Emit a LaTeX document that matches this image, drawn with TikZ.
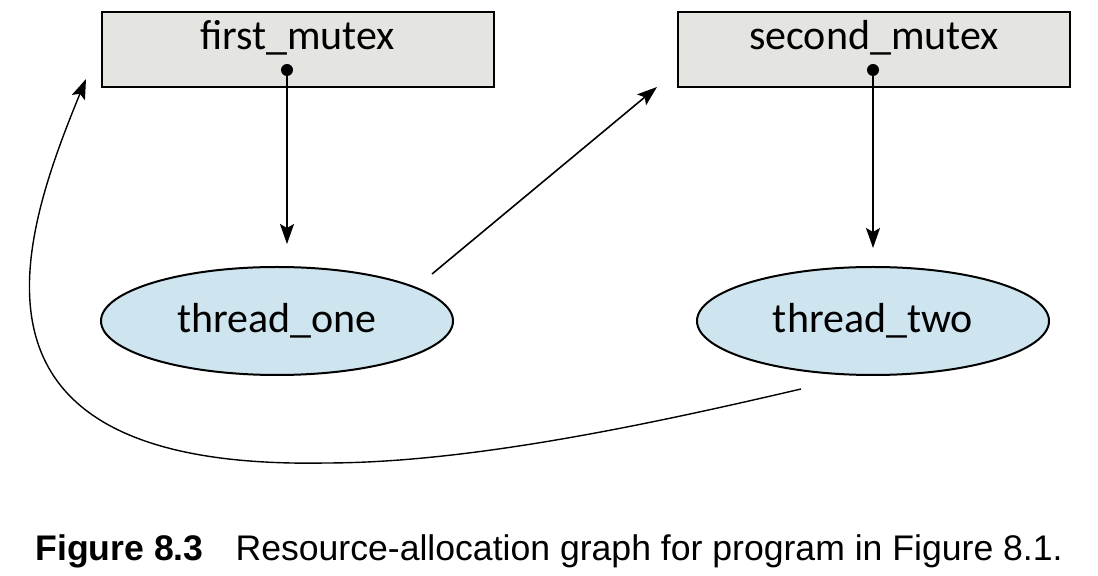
\documentclass[tikz,border=0pt]{standalone}
\usepackage{fontspec}
\setmainfont{Carlito}
\newfontfamily\capfont{Liberation Sans}
\usetikzlibrary{positioning,arrows.meta,shapes.geometric}
\definecolor{mutexgray}{RGB}{228,229,224}
\definecolor{threadblue}{RGB}{206,228,238}

\begin{document}
\begin{tikzpicture}[x=0.5pt,y=-0.5pt,
  mutex/.style={draw,fill=mutexgray,line width=1pt,minimum width=196pt,minimum height=37.5pt,inner sep=0pt,outer sep=0pt},
  thread/.style={draw,ellipse,fill=threadblue,line width=1pt,minimum width=176pt,minimum height=54pt,inner sep=0pt},
  arr/.style={-{Stealth[length=10pt,width=7pt,inset=2pt]},line width=0.8pt}]
\useasboundingbox (0,0) rectangle (1098,576);
\node[mutex,label={[anchor=base,yshift=-19pt,font=\fontsize{21}{25}\selectfont]north:first\_mutex}] (m1) at (297.5,49.5) {};
\node[mutex,label={[anchor=base,yshift=-19pt,font=\fontsize{21}{25}\selectfont]north:second\_mutex}] (m2) at (874,49.5) {};
\node[thread,font=\fontsize{21}{25}\selectfont] (t1) at (277,321) {thread\_one};
\node[thread,font=\fontsize{21}{25}\selectfont] (t2) at (873,321) {thread\_two};
\coordinate (d1) at (287,70);
\coordinate (d2) at (873,70);
\fill (d1) circle (3pt) (d2) circle (3pt);
% request and assignment edges
\draw[arr] (d1) -- ([yshift=11pt]t1.north -| d1);
\draw[arr] (d2) -- ([yshift=9pt]t2.north);
\draw[arr] ([xshift=77.5pt,yshift=23.5pt]t1.center) -- ([xshift=-10.5pt]m2.south west);
\draw[arr,line width=0.7pt] ([xshift=-36pt,yshift=-34pt]t2.center) .. controls (651,424) and (470,463) .. (325,463)
  .. controls (-60,470) and (20,240) .. ([xshift=-7.75pt,yshift=4pt]m1.south west);
\node[font=\capfont\fontsize{17.8}{21}\selectfont,anchor=base west,inner sep=0pt] (cap) at (35,561)
  {\textbf{Figure 8.3}\hspace{0.9em}Resource-allocation graph for program in Figure 8.1.};
\end{tikzpicture}
\end{document}
